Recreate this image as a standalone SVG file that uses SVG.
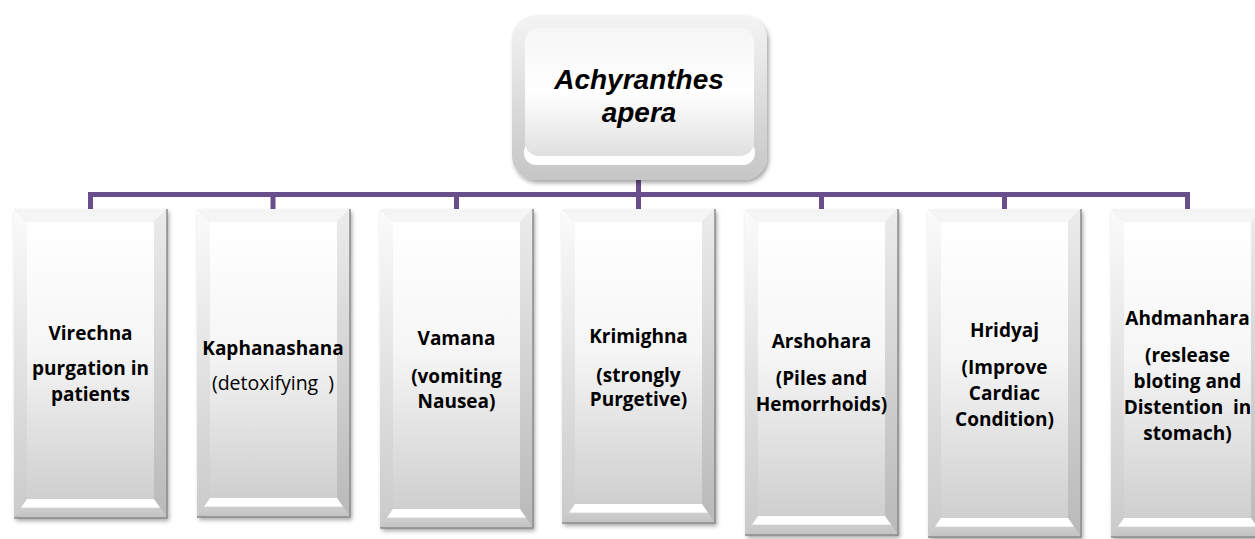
<svg xmlns="http://www.w3.org/2000/svg" width="1255" height="539" viewBox="0 0 1255 539">
<style>
  text { font-family: "Open Sans", "Liberation Sans", sans-serif; fill: #000; text-anchor: middle; }
  .lbl { font-size: 19px; font-weight: bold; }
  .reg { font-size: 19.5px; font-weight: normal; white-space: pre; }
  .title { font-family: "Liberation Sans", Arial, sans-serif; font-size: 28px; font-weight: bold; font-style: italic; }
  .outer { fill: #d6d6d6; filter: url(#shadow); }
  .top { fill: #f5f5f5; }
  .left { fill: url(#bevL); }
  .right { fill: url(#bevR); }
  .bottom { fill: url(#bevB); }
  .panel { fill: url(#panel); }
  .edge { fill: none; stroke: #8c8c8c; stroke-width: 1.5; }
  .conn { fill: none; stroke: #684e8a; stroke-width: 5; stroke-linejoin: miter; stroke-linecap: butt; }
</style>
<defs>
  <filter id="shadow" x="-10%" y="-10%" width="125%" height="125%">
    <feDropShadow dx="2" dy="3" stdDeviation="2" flood-color="#000" flood-opacity="0.35"/>
  </filter>
  <linearGradient id="bevL" x1="0" y1="0" x2="0" y2="1">
    <stop offset="0" stop-color="#fbfbfb"/>
    <stop offset="1" stop-color="#cacaca"/>
  </linearGradient>
  <linearGradient id="bevR" x1="0" y1="0" x2="0" y2="1">
    <stop offset="0" stop-color="#ececec"/>
    <stop offset="1" stop-color="#b9b9b9"/>
  </linearGradient>
  <linearGradient id="bevB" x1="0" y1="0" x2="0" y2="1">
    <stop offset="0" stop-color="#ffffff"/>
    <stop offset="0.42" stop-color="#ffffff"/>
    <stop offset="0.5" stop-color="#cdcdcd"/>
    <stop offset="1" stop-color="#c2c2c2"/>
  </linearGradient>
  <linearGradient id="panel" x1="0" y1="0" x2="0" y2="1">
    <stop offset="0" stop-color="#ffffff"/>
    <stop offset="0.45" stop-color="#f6f6f6"/>
    <stop offset="1" stop-color="#cfcfcf"/>
  </linearGradient>
  <linearGradient id="topOuter" x1="0" y1="0" x2="0" y2="1">
    <stop offset="0" stop-color="#f4f4f4"/>
    <stop offset="1" stop-color="#c6c6c6"/>
  </linearGradient>
  <linearGradient id="topPanel" x1="0" y1="0" x2="0" y2="1">
    <stop offset="0" stop-color="#f6f6f6"/>
    <stop offset="0.5" stop-color="#ffffff"/>
    <stop offset="1" stop-color="#e0e0e0"/>
  </linearGradient>
</defs>
<rect width="1255" height="539" fill="#ffffff"/>

<g id="connectors">
  <path class="conn" d="M90.5,209 V194.5 H1187.5 V209 M273,194.5 V209 M456.5,194.5 V209 M638.5,180 V209 M821.5,194.5 V209 M1004.5,194.5 V209"/>
</g>

<g id="root">
  <rect x="512" y="15" width="255" height="165" rx="24" fill="url(#topOuter)" filter="url(#shadow)"/>
  <rect x="524" y="140" width="231" height="25" rx="12" fill="#ffffff"/>
  <rect x="525" y="28" width="229" height="128" rx="14" fill="url(#topPanel)"/>
  <text class="title" x="639" y="89">Achyranthes</text>
  <text class="title" x="639" y="122">apera</text>
</g>

<g id="n1">
  <g transform="translate(14,209)">
    <rect class="outer" width="153" height="309"/>
    <polygon class="top" points="0,0 153,0 140,13 13,13"/>
    <polygon class="left" points="0,0 13,13 13,290 0,309"/>
    <polygon class="right" points="153,0 140,13 140,290 153,309"/>
    <polygon class="bottom" points="0,309 13,290 140,290 153,309"/>
    <rect class="panel" x="13" y="13" width="127" height="277"/>
    <polyline class="edge" points="153,0 153,309 0,309"/>
  </g>
  <text class="lbl" x="90.5" y="340">Virechna</text>
  <text class="lbl" x="90.5" y="375">purgation in</text>
  <text class="lbl" x="90.5" y="401">patients</text>
</g>

<g id="n2">
  <g transform="translate(197,209)">
    <rect class="outer" width="153" height="308"/>
    <polygon class="top" points="0,0 153,0 140,13 13,13"/>
    <polygon class="left" points="0,0 13,13 13,289 0,308"/>
    <polygon class="right" points="153,0 140,13 140,289 153,308"/>
    <polygon class="bottom" points="0,308 13,289 140,289 153,308"/>
    <rect class="panel" x="13" y="13" width="127" height="276"/>
    <polyline class="edge" points="153,0 153,308 0,308"/>
  </g>
  <text class="lbl" x="273" y="355">Kaphanashana</text>
  <text class="reg" x="273" y="390">(detoxifying  )</text>
</g>

<g id="n3">
  <g transform="translate(380,209)">
    <rect class="outer" width="153" height="319"/>
    <polygon class="top" points="0,0 153,0 140,13 13,13"/>
    <polygon class="left" points="0,0 13,13 13,300 0,319"/>
    <polygon class="right" points="153,0 140,13 140,300 153,319"/>
    <polygon class="bottom" points="0,319 13,300 140,300 153,319"/>
    <rect class="panel" x="13" y="13" width="127" height="287"/>
    <polyline class="edge" points="153,0 153,319 0,319"/>
  </g>
  <text class="lbl" x="456.5" y="345">Vamana</text>
  <text class="lbl" x="456.5" y="383">(vomiting</text>
  <text class="lbl" x="456.5" y="408">Nausea)</text>
</g>

<g id="n4">
  <g transform="translate(562,209)">
    <rect class="outer" width="153" height="314"/>
    <polygon class="top" points="0,0 153,0 140,13 13,13"/>
    <polygon class="left" points="0,0 13,13 13,295 0,314"/>
    <polygon class="right" points="153,0 140,13 140,295 153,314"/>
    <polygon class="bottom" points="0,314 13,295 140,295 153,314"/>
    <rect class="panel" x="13" y="13" width="127" height="282"/>
    <polyline class="edge" points="153,0 153,314 0,314"/>
  </g>
  <text class="lbl" x="638.5" y="343">Krimighna</text>
  <text class="lbl" x="638.5" y="382">(strongly</text>
  <text class="lbl" x="638.5" y="406">Purgetive)</text>
</g>

<g id="n5">
  <g transform="translate(745,209)">
    <rect class="outer" width="153" height="326"/>
    <polygon class="top" points="0,0 153,0 140,13 13,13"/>
    <polygon class="left" points="0,0 13,13 13,307 0,326"/>
    <polygon class="right" points="153,0 140,13 140,307 153,326"/>
    <polygon class="bottom" points="0,326 13,307 140,307 153,326"/>
    <rect class="panel" x="13" y="13" width="127" height="294"/>
    <polyline class="edge" points="153,0 153,326 0,326"/>
  </g>
  <text class="lbl" x="821.5" y="348">Arshohara</text>
  <text class="lbl" x="821.5" y="385">(Piles and</text>
  <text class="lbl" x="821.5" y="411">Hemorrhoids)</text>
</g>

<g id="n6">
  <g transform="translate(928,209)">
    <rect class="outer" width="153" height="328"/>
    <polygon class="top" points="0,0 153,0 140,13 13,13"/>
    <polygon class="left" points="0,0 13,13 13,309 0,328"/>
    <polygon class="right" points="153,0 140,13 140,309 153,328"/>
    <polygon class="bottom" points="0,328 13,309 140,309 153,328"/>
    <rect class="panel" x="13" y="13" width="127" height="296"/>
    <polyline class="edge" points="153,0 153,328 0,328"/>
  </g>
  <text class="lbl" x="1004.5" y="337">Hridyaj</text>
  <text class="lbl" x="1004.5" y="374">(Improve</text>
  <text class="lbl" x="1004.5" y="400">Cardiac</text>
  <text class="lbl" x="1004.5" y="426">Condition)</text>
</g>

<g id="n7">
  <g transform="translate(1111,209)">
    <rect class="outer" width="153" height="328"/>
    <polygon class="top" points="0,0 153,0 140,13 13,13"/>
    <polygon class="left" points="0,0 13,13 13,309 0,328"/>
    <polygon class="right" points="153,0 140,13 140,309 153,328"/>
    <polygon class="bottom" points="0,328 13,309 140,309 153,328"/>
    <rect class="panel" x="13" y="13" width="127" height="296"/>
    <polyline class="edge" points="153,0 153,328 0,328"/>
  </g>
  <text class="lbl" x="1187.5" y="325">Ahdmanhara</text>
  <text class="lbl" x="1187.5" y="362">(reslease</text>
  <text class="lbl" x="1187.5" y="388">bloting and</text>
  <text class="lbl" x="1187.5" y="414" style="white-space:pre">Distention  in</text>
  <text class="lbl" x="1187.5" y="440">stomach)</text>
</g>
</svg>
